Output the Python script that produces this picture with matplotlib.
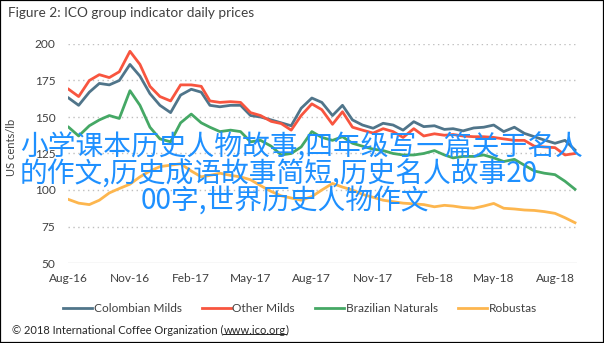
import matplotlib
matplotlib.use("Agg")
import matplotlib.pyplot as plt
from matplotlib.lines import Line2D
from matplotlib.patches import Rectangle
import pandas as pd

dates = ["2016-08-01","2016-08-16","2016-09-01","2016-09-16","2016-10-01","2016-10-16",
         "2016-11-01","2016-11-16","2016-12-01","2016-12-16","2017-01-01","2017-01-16",
         "2017-02-01","2017-02-16","2017-03-01","2017-03-16","2017-04-01","2017-04-16",
         "2017-05-01","2017-05-16","2017-06-01","2017-06-16","2017-07-01","2017-07-16",
         "2017-08-01","2017-08-16","2017-09-01","2017-09-16","2017-10-01","2017-10-16",
         "2017-11-01","2017-11-16","2017-12-01","2017-12-16","2018-01-01","2018-01-16",
         "2018-02-01","2018-02-16","2018-03-01","2018-03-16","2018-04-01","2018-04-16",
         "2018-05-01","2018-05-16","2018-06-01","2018-06-16","2018-07-01","2018-07-16",
         "2018-08-01","2018-08-16","2018-08-31"]

colombian_milds = [163,158,167,173,172,175,186,178,166,158,153,165,169,167,158,157,158,158,
                   151,150,148,146,144,156,163,160,151,158,148,144.5,142.3,145.7,144.5,141,
                   146.8,143.4,144,141.5,142,140.5,142.5,143,144.5,140,143,138.8,136.5,134.2,
                   132,134,127.4]
other_milds = [169,164,175,179,177,181,195,186,171,164,161,172,172,171,161,160,160.5,160,
               153,151,147,145.5,141,151,159,155,145,153.6,143,141,139,142,140,136,
               142,137,138.5,137.5,138,137,136.5,136.5,136,135,134,134,130,129.5,
               129,124,125]
brazilian_naturals = [143,137,144,148,151,149,168,158,143,135,133,146,152,146,143,140,141,140,
                      133,134,130,124,125,129.5,140,136,134,136.5,132,130,128,127,125,124,
                      124,125,127,124,122,123,123,124,122,119.5,121,117,113,111.5,
                      110.5,106,100.5]
robustas = [93.5,91,90,93,98,101,104,109,113,116,117,118,113,109,110,111.5,110,109,
            107,103,99,96,94.5,93,95.5,100,104.5,102,100,97,95,93,92,91,
            90.5,90,88.5,89.5,89,88,87.5,89,90.8,87.5,87,86.3,86,85.2,
            84,81,77.6]

series_names = ["Colombian Milds", "Other Milds", "Brazilian Naturals", "Robustas"]
series_colors = ["#50758A", "#F8553F", "#45A865", "#FDB64E"]
yticks = [50, 75, 100, 125, 150, 175, 200]
xtick_dates = ["2016-08-01","2016-11-01","2017-02-01","2017-05-01","2017-08-01",
               "2017-11-01","2018-02-01","2018-05-01","2018-08-01"]
xtick_labels = ["Aug-16","Nov-16","Feb-17","May-17","Aug-17","Nov-17","Feb-18","May-18","Aug-18"]

title = "Figure 2: ICO group indicator daily prices"
ylabel = "US cents/lb"
copyright_pre = "\u00a9 2018 International Coffee Organization ("
copyright_url = "www.ico.org"
copyright_post = ")"
overlay_lines = ["小学课本历史人物故事,四年级写一篇关于名人",
                 "的作文,历史成语故事简短,历史名人故事20",
                 "00字,世界历史人物作文"]

plt.rcParams['font.family'] = ['Lato', 'DejaVu Sans']

W, H = 604, 343
fig = plt.figure(figsize=(W/100, H/100), dpi=100)
fig.patch.set_facecolor("white")

def fx(px): return px / W
def fy(py): return 1 - py / H

ax = fig.add_axes([fx(68), fy(263), fx(577) - fx(68), fy(44) - fy(263)])
d = pd.to_datetime(dates)
all_series = [colombian_milds, other_milds, brazilian_naturals, robustas]
for vals, name, col in zip(all_series, series_names, series_colors):
    ax.plot(d, vals, color=col, lw=2.0, label=name, solid_joinstyle='round')

ax.set_ylim(50, 200)
ax.set_xlim(pd.Timestamp("2016-07-31"), pd.Timestamp("2018-09-03"))
ax.set_yticks(yticks)
ax.set_xticks(pd.to_datetime(xtick_dates))
ax.set_xticklabels(xtick_labels)
for s in ax.spines.values():
    s.set_visible(False)
ax.tick_params(length=0, labelsize=8.6, colors="#404040")
ax.tick_params(axis='y', pad=9)
ax.tick_params(axis='x', pad=7)
for yv in yticks[1:]:
    ax.axhline(yv, color="#BFBFBF", lw=1, linestyle=(0, (1, 2.5)), zorder=0)
ax.axhline(50, color="#D9D9D9", lw=1, zorder=0)

fig.text(fx(12), fy(147), ylabel, rotation=90, va='center', ha='center',
         fontsize=8, color="#404040")
fig.text(fx(8), fy(13), title, va='center', ha='left', fontsize=9.8, color="#404040")

handles = [Line2D([0], [0], color=c, lw=2) for c in series_colors]
fig.legend(handles, series_names, loc='center', bbox_to_anchor=(fx(300), fy(309)),
           ncol=4, frameon=False, fontsize=8.6, handlelength=2.4, handletextpad=0.15,
           columnspacing=1.7, labelcolor="#404040")

fs_c = 8
t1 = fig.text(fx(12), fy(330), copyright_pre, va='center', ha='left', fontsize=fs_c, color="#262626")
fig.canvas.draw()
r = fig.canvas.get_renderer()
bb = t1.get_window_extent(r)
t2 = fig.text(bb.x1 / W, fy(330), copyright_url, va='center', ha='left', fontsize=fs_c, color="#262626")
bb2 = t2.get_window_extent(r)
t3 = fig.text(bb2.x1 / W, fy(330), copyright_post, va='center', ha='left', fontsize=fs_c, color="#262626")
fig.add_artist(Line2D([bb2.x0 / W, bb2.x1 / W], [bb2.y0 / H + 0.004, bb2.y0 / H + 0.004],
                      color="#262626", lw=0.7, transform=fig.transFigure))

overlay_pos = [(20, 147.5), (20, 175), (141, 202)]
for txt, (px, py) in zip(overlay_lines, overlay_pos):
    fig.text(fx(px), fy(py), txt, ha='left', va='center', fontsize=20,
             color="#1E90FF", family=['Noto Sans CJK SC', 'DejaVu Sans'], zorder=10)

fig.add_artist(Rectangle((0, 0), 1, 1, transform=fig.transFigure, fill=False,
                         edgecolor='black', lw=1.6))

fig.savefig("out.png", dpi=100)
